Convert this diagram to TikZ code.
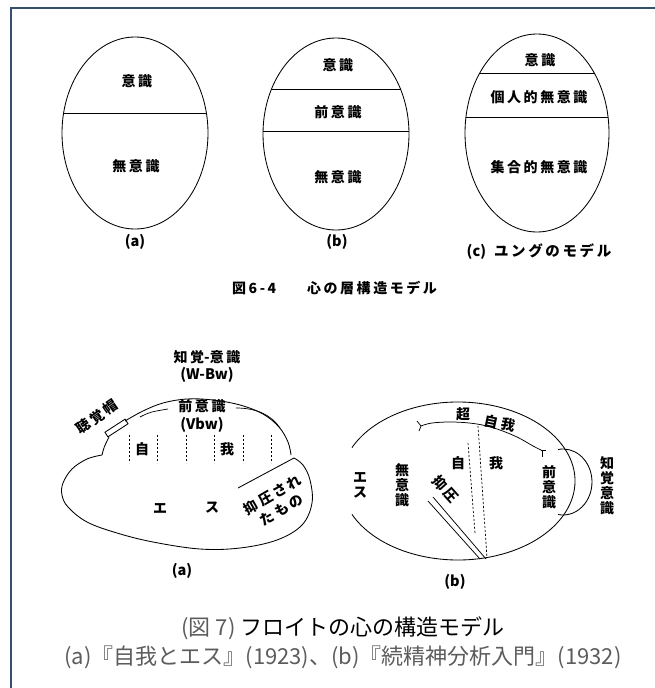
\documentclass[tikz,border=0pt]{standalone}
\usepackage{fontspec}
\setmainfont{Noto Sans CJK JP}
\newfontfamily\lblfont{Noto Sans CJK JP}[LetterSpace=18]
\newfontfamily\capfont{Noto Sans CJK JP}
\definecolor{frameblue}{HTML}{34506E}
\definecolor{capgrey}{HTML}{5C5C5C}
\newcommand\mylbl{\fontsize{14}{15}\selectfont\lblfont\bfseries}
\newcommand\mylat{\fontsize{14.5}{15}\selectfont\capfont\bfseries}
\newcommand\mybig{\fontsize{22}{26}\selectfont\capfont}
\begin{document}
\begin{tikzpicture}[x=1pt,y=-1pt,
  ln/.style={line width=0.85pt, black},
  lb/.style={font=\mylbl, inner sep=0pt, anchor=center},
  lt/.style={font=\mylat, inner sep=0pt, anchor=center},
  vt/.style={lb, align=center},
  dsh/.style={line width=0.7pt, black, dash pattern=on 2.2pt off 1.8pt}]
\useasboundingbox (0,0) rectangle (655,688);
\fill[white] (0,0) rectangle (655,688);
% frame
\draw[frameblue, line width=2.6pt] (11,688) -- (11,8) -- (655,8);

% ---------- top: (a)
\draw[ln] (135,133) ellipse [x radius=73, y radius=96];
\begin{scope}
  \clip (135,133) ellipse [x radius=73, y radius=96];
  \draw[ln] (50,113) -- (220,113);
\end{scope}
\node[lb] (ta1) at (137,81) {意識};
\node[lb] (ta2) at (136,166) {無意識};
\node[lt] (tal) at (135,242) {(a)};

% ---------- top: (b)
\draw[ln] (336,134) ellipse [x radius=73, y radius=96];
\begin{scope}
  \clip (336,134) ellipse [x radius=73, y radius=96];
  \draw[ln] (250,89) -- (420,89);
  \draw[ln] (250,131) -- (420,131);
\end{scope}
\node[lb] (tb1) at (338,65) {意識};
\node[lb] (tb2) at (338,112) {前意識};
\node[lb] (tb3) at (338,177) {無意識};
\node[lt] (tbl) at (337,242) {(b)};

% ---------- top: (c)
\draw[ln] (537,133) ellipse [x radius=72, y radius=99];
\begin{scope}
  \clip (537,133) ellipse [x radius=72, y radius=99];
  \draw[ln] (450,73) -- (620,73);
  \draw[ln] (450,117) -- (620,117);
\end{scope}
\node[lb] (tc1) at (540,60) {意識};
\node[lb] (tc2) at (539,97) {個人的無意識};
\node[lb] (tc3) at (539,167) {集合的無意識};
\node[lb, font=\fontsize{14.5}{15}\selectfont\lblfont\bfseries] (tcl) at (539,252) {{\mylat (c)}\hspace{8pt}ユングのモデル};

\node[lb, anchor=west] (cap1) at (232,288) {図6-4};
\node[lb, anchor=west] (cap2) at (307,288) {心の層構造モデル};

% ---------- bottom (a)
\node[lb] (fa1) at (207,357) {知覚{\mylat -}意識};
\node[lt] (fa2) at (207,375) {(W-Bw)};
\node[lb] (fa3) at (202,406) {前意識};
\node[lt] (fa4) at (202,425) {(Vbw)};
% outer arc
\draw[ln] plot[smooth, tension=0.6] coordinates {(125,421) (143,411) (163,403) (187,399) (213,400) (240,405) (263,414) (279,427) (288,442) (291,455)};
% inner arc
\draw[ln, line width=0.7pt] (140,417) .. controls (150,412) .. (168,409);
\draw[ln, line width=0.7pt] (236,408) .. controls (258,408) and (272,416) .. (280,428);
% separation line
\draw[ln] (238,488) -- (294,458);
% lower outline
\draw[ln] plot[smooth, tension=0.6] coordinates {(294,458) (303,465) (310,480) (312,503) (302,525) (277,540) (240,548) (200,549) (153,542) (117,533) (87,522) (68,507) (62,495) (63,483) (72,469) (87,459) (102,455)};
\draw[ln] (102,455) .. controls (104,447) .. (109,437);
% 聴覚帽 box
\node[draw, line width=0.85pt, minimum width=24pt, minimum height=5.5pt, inner sep=0pt, rotate=33] (cap) at (116.5,428) {};
\node[lb, rotate=35] (fa5) at (97,417) {聴覚帽};
% dashed
\foreach \x in {129,157,186,214,243,271}{\draw[dsh] (\x,435) -- (\x,463);}
\node[lb] (fa6) at (142,449) {自};
\node[lb] (fa7) at (227,449) {我};
\node[lb] (fa8) at (160,508) {エ};
\node[lb] (fa9) at (212,508) {ス};
\node[lb, rotate=30, align=center, font=\fontsize{14}{17.5}\selectfont\lblfont\bfseries] (fa10) at (277,502) {抑圧され\\たもの};
\node[lt] (fal) at (182,571) {(a)};

% ---------- bottom (b)
\draw[ln] (458,481) ++(155:117 and 79) arc[start angle=155, end angle=-155, x radius=117, y radius=79];
\draw[ln] (563,482) ++(-100:29 and 33) arc[start angle=-100, end angle=100, x radius=29, y radius=33];
% superego curve
\draw[ln, line width=0.75pt] plot[smooth, tension=0.6] coordinates {(421,426) (432,423) (453,422) (477,424) (497,429) (517,437) (533,446) (541,450)};
\draw[ln, line width=0.75pt] (417,421) -- (421,426) -- (419,431);
\draw[ln, line width=0.75pt] (541,450) -- (546,450);
\draw[ln, line width=0.75pt] (542,450) -- (542,457);
% dashed
\draw[dsh] (478,426) -- (487,558);
\draw[dsh] (468,443) -- (475,533);
% repression double line
\draw[ln, line width=0.75pt] (428,501) -- (480,559);
\draw[ln, line width=0.75pt] (433,497) -- (486,559);
\node[lb] (fb1) at (463,414) {超};
\node[lb, rotate=-12] (fb2) at (500,423) {自我};
\node[lb, rotate=-48] (fb3) at (446,489) {抑圧};
\node[vt] (fb4) at (360,485) {エ\\ス};
\node[vt] (fb5) at (402,485) {無\\意\\識};
\node[lb] (fb6) at (458,463) {自};
\node[lb] (fb7) at (496,463) {我};
\node[vt] (fb8) at (549,487) {前\\意\\識};
\node[vt] (fb9) at (607,486) {知\\覚\\意\\識};
\node[lt] (fbl) at (455,582) {(b)};

% ---------- caption
\node[font=\mybig, inner sep=0pt] (c1) at (343,628) {\textcolor{capgrey}{(図 7)} フロイトの心の構造モデル};
\node[font=\mybig, inner sep=0pt, text=capgrey] (c2) at (343,657) {(a)『自我とエス』(1923)、(b)『続精神分析入門』(1932)};
\end{tikzpicture}
\end{document}
